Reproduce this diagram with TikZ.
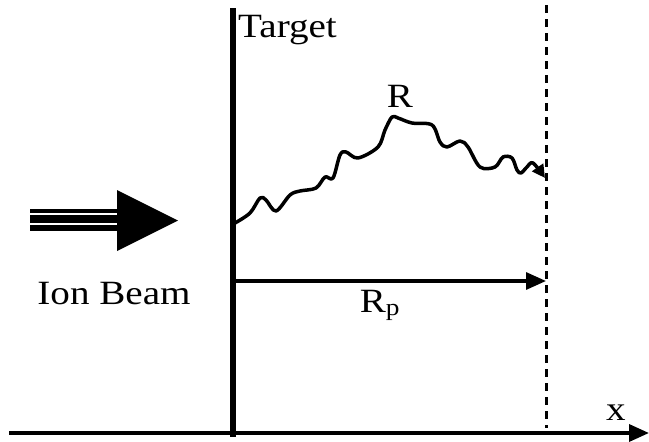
\documentclass[tikz,border=0pt]{standalone}
\usepackage{fontspec}
\setmainfont{Liberation Serif}[FakeStretch=1.15]
\usetikzlibrary{arrows.meta}

\tikzset{
  lbl/.style={font=\fontsize{34}{38}\selectfont, inner sep=0pt},
  bigtip/.style={-{Triangle[length=20pt,width=17pt]}}
}

\begin{document}
\begin{tikzpicture}[x=1pt,y=-1pt]
  \useasboundingbox (0,0) rectangle (649,442);

  % Target surface and depth marker
  \coordinate (targettop) at (233,8);
  \coordinate (targetbot) at (233,437);
  \draw[line width=5.5pt] (targettop) -- (targetbot);
  \coordinate (depthtop) at (546,5);
  \coordinate (depthbot) at (546,428);
  \draw[line width=3pt, dash pattern=on 8pt off 6pt] (depthtop) -- (depthbot);

  % x axis
  \coordinate (axisstart) at (9,433);
  \coordinate (axisend) at (649,433);
  \draw[line width=3.5pt, bigtip] (axisstart) -- (axisend);
  \node[lbl, anchor=base] (xlabel) at (616,420) {x};

  % Labels
  \node[lbl, anchor=base west] (target) at (238,37) {Target};
  \node[lbl, anchor=base] (ionbeam) at (114,304) {Ion Beam};
  \node[lbl, anchor=base] (rlabel) at (400,107) {R};
  \node[lbl, anchor=base] (rplabel) at (380,312) {R\textsubscript{p}};

  % Ion beam arrow
  \fill (30,209) rectangle (118,231);
  \draw[white, line width=1.5pt] (30,214) -- (118,214);
  \draw[white, line width=1.5pt] (30,224) -- (118,224);
  \fill (117,190) -- (117,251) -- (178,220.5) -- cycle;

  % Projected range
  \coordinate (rpstart) at (235,281);
  \coordinate (rpend) at (546,281);
  \draw[line width=3.2pt, bigtip] (rpstart) -- (rpend);

  % Ion path
  \draw[line width=3.5pt, line join=round, -{Triangle[length=13pt,width=13pt]}]
    plot[smooth, tension=0.55] coordinates {
      (235,223) (250,213) (260,198) (266,200) (276,211) (290,195) (300,191)
      (316,188) (325,177) (333,178) (340,155) (346,152) (358,158) (378,147)
      (385,130) (392,117) (398,118) (412,123) (432,125) (440,142) (447,147)
      (460,141) (468,147) (480,167) (495,167) (503,157) (512,158) (517,170)
      (521,173) (527,167) (533,163) (545,178)};
\end{tikzpicture}
\end{document}
